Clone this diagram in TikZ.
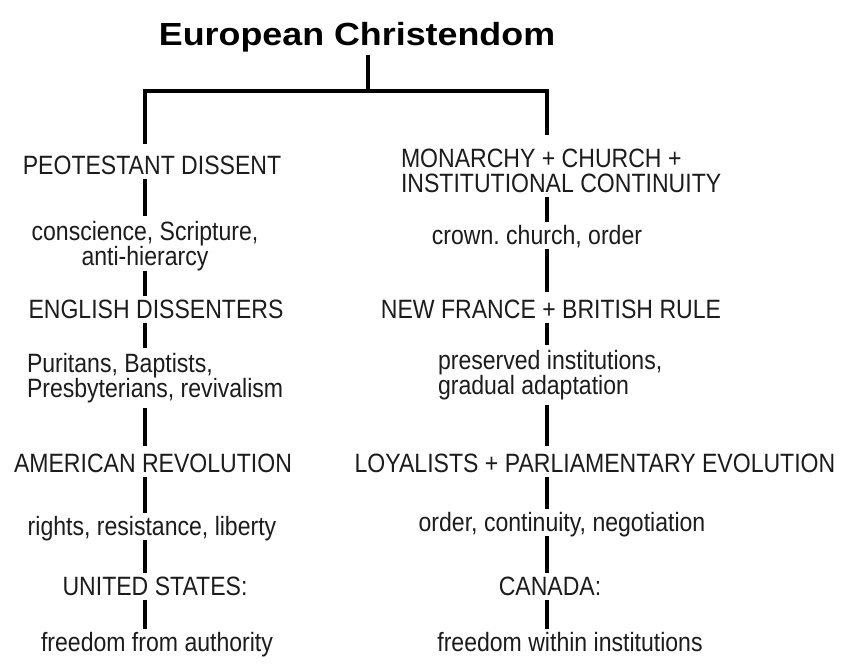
\documentclass[tikz,border=0pt]{standalone}
\usepackage{fontspec}
\setmainfont{Liberation Sans}[FakeStretch=0.87]
\newfontfamily\titlefont{Liberation Sans}[FakeStretch=1.12]
\definecolor{ink}{RGB}{28,28,28}
\frenchspacing
\begin{document}
\begin{tikzpicture}[x=1pt,y=-1pt,
  lbl/.style={inner sep=0pt, outer sep=0pt, text=ink, font=\fontsize{26.5}{24}\selectfont,
              text height=18pt, text depth=5pt, anchor=base},
  mlbl/.style={inner sep=0pt, outer sep=0pt, text=ink, anchor=north west, align=left},
  conn/.style={line width=3.6pt, black, shorten >=4pt},
  bar/.style={line width=3.6pt, black, line join=miter}]
\useasboundingbox[fill=white] (0,0) rectangle (850,664);
\coordinate (L) at (145,0);
\coordinate (R) at (547,0);
\coordinate (J) at (368,91);
\coordinate (BL) at (145,91);
\coordinate (BR) at (547,91);

\node[inner sep=0pt, outer sep=0pt, anchor=base, font=\titlefont\bfseries\fontsize{32}{36}\selectfont]
  (title) at (357,45) {European Christendom};

% left column
\node[lbl] (pd) at (152,174) {PEOTESTANT DISSENT};
\node[mlbl, anchor=north, align=center, font=\fontsize{26.5}{22}\selectfont] (cs) at (145,220)
  {\rule{0pt}{20pt}conscience, Scripture,\\anti-hierarcy\rule[-5pt]{0pt}{5pt}};
\node[lbl] (ed) at (156,318) {ENGLISH DISSENTERS};
\node[mlbl, font=\fontsize{26.5}{25}\selectfont] (pu) at (27,352)
  {\rule{0pt}{20pt}Puritans, Baptists,\\Presbyterians, revivalism\rule[-5pt]{0pt}{5pt}};
\node[lbl] (ar) at (153,472) {AMERICAN REVOLUTION};
\node[lbl] (ri) at (152,535) {rights, resistance, liberty};
\node[lbl] (us) at (155,595) {UNITED STATES:};
\node[lbl] (fa) at (157,651) {freedom from authority};

% right column
\node[mlbl, font=\fontsize{26.5}{25}\selectfont] (mo) at (401,147)
  {\rule{0pt}{20pt}MONARCHY + CHURCH +\\INSTITUTIONAL CONTINUITY\rule[-5pt]{0pt}{5pt}};
\node[lbl] (cr) at (537,244) {crown. church, order};
\node[lbl] (nf) at (551,318) {NEW FRANCE + BRITISH RULE};
\node[mlbl, font=\fontsize{26.5}{25}\selectfont] (pr) at (438,349)
  {\rule{0pt}{20pt}preserved institutions,\\gradual adaptation\rule[-5pt]{0pt}{5pt}};
\node[lbl] (lo) at (595,472) {LOYALISTS + PARLIAMENTARY EVOLUTION};
\node[lbl] (or) at (562,531) {order, continuity, negotiation};
\node[lbl] (ca) at (550,595) {CANADA:};
\node[lbl] (fw) at (570,651) {freedom within institutions};

% tree
\draw[line width=3.6pt] ([yshift=-3pt]title.south -| J) -- (J);
\draw[bar] ([yshift=12pt]pd.north -| L) -- (BL) -- (BR) -- ([yshift=12pt]mo.north -| R);

\draw[conn] (pd.south -| L) -- (cs.north -| L);
\draw[conn] (cs.south -| L) -- (ed.north -| L);
\draw[conn] (ed.south -| L) -- (pu.north -| L);
\draw[conn, shorten <=5pt, shorten >=8pt] (pu.south -| L) -- (ar.north -| L);
\draw[conn] (ar.south -| L) -- (ri.north -| L);
\draw[conn] (ri.south -| L) -- (us.north -| L);
\draw[conn] (us.south -| L) -- (fa.north -| L);

\draw[conn] (mo.south -| R) -- (cr.north -| R);
\draw[conn, shorten >=8pt] (cr.south -| R) -- (nf.north -| R);
\draw[conn] (nf.south -| R) -- (pr.north -| R);
\draw[conn, shorten <=5pt, shorten >=8pt] (pr.south -| R) -- (lo.north -| R);
\draw[conn] (lo.south -| R) -- (or.north -| R);
\draw[conn] (or.south -| R) -- (ca.north -| R);
\draw[conn] (ca.south -| R) -- (fw.north -| R);
\end{tikzpicture}
\end{document}
